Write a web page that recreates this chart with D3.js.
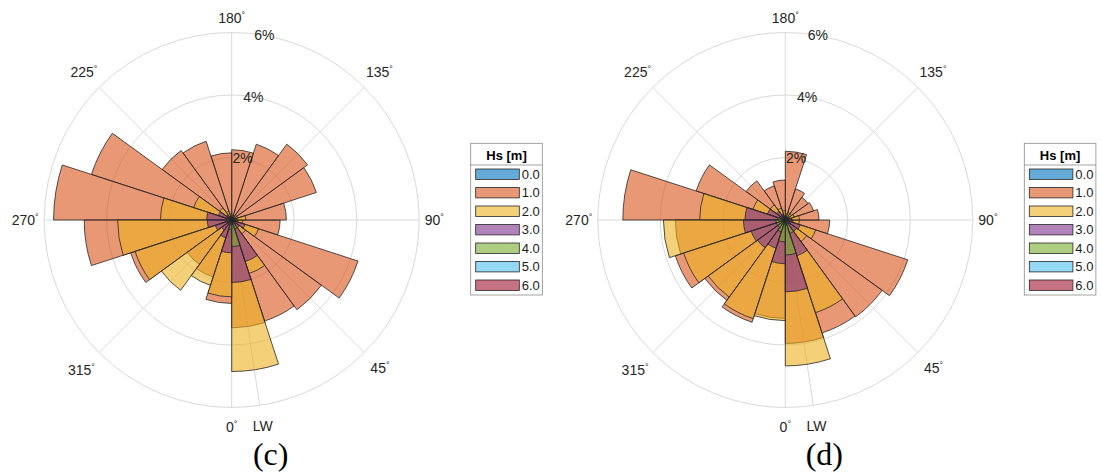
<!DOCTYPE html>
<html>
<head>
<meta charset="utf-8">
<script src="https://cdn.jsdelivr.net/npm/d3@7"></script>
<style>
  html, body { margin: 0; padding: 0; background: #fff; }
  svg { display: block; }
</style>
</head>
<body>
<svg id="chart" width="1101" height="472"></svg>
<script>
// Direction bins (start of each 18° sector) and Hs classes
const directionBins = [0, 18, 36, 54, 72, 90, 108, 126, 144, 162, 180, 198, 216, 234, 252, 270, 288, 306, 324, 342];
const binWidth = 18;
const hsClasses = ["0.0", "1.0", "2.0", "3.0", "4.0", "5.0", "6.0"];
const radialTicks = [2, 4, 6];
const angleTicks = [0, 45, 90, 135, 180, 225, 270, 315];
const lwDirection = 8.6;
const lwLabel = "LW";

// Panel (c): occurrence (%) per direction bin for each Hs class
const c_hs0 = [0.10, 0.08, 0.06, 0.07, 0.05, 0.05, 0.05, 0.05, 0.05, 0.05, 0.05, 0.05, 0.06, 0.07, 0.09, 0.10, 0.09, 0.08, 0.08, 0.10];
const c_hs1 = [3.45, 3.40, 3.55, 4.25, 1.55, 1.75, 2.85, 3.00, 2.55, 2.25, 2.15, 2.65, 2.75, 4.72, 5.70, 4.72, 3.40, 1.76, 1.92, 2.67];
const c_hs2 = [4.85, 1.80, 0.55, 0.90, 0.35, 0.45, 0.20, 0.20, 0.15, 0.15, 0.20, 0.30, 0.48, 1.28, 2.28, 3.65, 3.25, 2.78, 2.20, 2.46];
const c_hs3 = [2.00, 1.40, 0.30, 0.45, 0.20, 0.15, 0.10, 0.08, 0.08, 0.08, 0.10, 0.12, 0.20, 0.45, 0.80, 0.78, 0.55, 0.40, 0.60, 1.05];
const c_hs4 = [0.85, 0.30, 0.12, 0.10, 0.06, 0.05, 0.04, 0.04, 0.04, 0.04, 0.04, 0.05, 0.06, 0.10, 0.15, 0.15, 0.12, 0.10, 0.15, 0.30];
const c_hs5 = [0.12, 0.06, 0.04, 0.04, 0.03, 0.02, 0.02, 0.02, 0.02, 0.02, 0.02, 0.02, 0.03, 0.04, 0.05, 0.06, 0.05, 0.05, 0.06, 0.10];
const c_hs6 = [0.06, 0.04, 0.02, 0.02, 0.02, 0.01, 0.01, 0.01, 0.01, 0.01, 0.01, 0.01, 0.02, 0.02, 0.03, 0.03, 0.03, 0.03, 0.03, 0.05];

// Panel (d)
const d_hs0 = [0.10, 0.08, 0.06, 0.06, 0.05, 0.05, 0.04, 0.04, 0.04, 0.05, 0.05, 0.05, 0.06, 0.07, 0.09, 0.10, 0.10, 0.09, 0.09, 0.10];
const d_hs1 = [3.95, 3.80, 3.83, 4.12, 1.42, 1.08, 0.95, 0.90, 1.05, 2.20, 1.28, 1.15, 1.55, 3.00, 5.20, 3.52, 3.70, 3.18, 3.44, 3.15];
const d_hs2 = [4.67, 3.12, 0.85, 1.02, 0.45, 0.45, 0.30, 0.25, 0.25, 0.20, 0.30, 0.40, 0.60, 1.09, 2.74, 3.90, 3.42, 3.05, 3.32, 3.22];
const d_hs3 = [2.30, 1.20, 0.45, 0.50, 0.25, 0.20, 0.12, 0.10, 0.10, 0.10, 0.12, 0.20, 0.35, 0.60, 1.29, 1.34, 1.15, 1.10, 0.95, 1.40];
const d_hs4 = [1.12, 0.45, 0.15, 0.12, 0.08, 0.06, 0.05, 0.05, 0.05, 0.05, 0.05, 0.06, 0.10, 0.15, 0.25, 0.30, 0.30, 0.30, 0.40, 0.70];
const d_hs5 = [0.15, 0.08, 0.04, 0.04, 0.03, 0.02, 0.02, 0.02, 0.02, 0.02, 0.02, 0.02, 0.03, 0.04, 0.06, 0.07, 0.07, 0.06, 0.07, 0.12];
const d_hs6 = [0.07, 0.04, 0.02, 0.02, 0.02, 0.01, 0.01, 0.01, 0.01, 0.01, 0.01, 0.01, 0.02, 0.02, 0.03, 0.04, 0.04, 0.03, 0.04, 0.06];

// Styling
const classColors = ["#0072BD", "#D95319", "#EDB120", "#7E2F8E", "#77AC30", "#4DBEEE", "#A2142F"];
const faceAlpha = 0.6;
const sansFont = "'Liberation Sans', Arial, Helvetica, sans-serif";
const serifFont = "'Liberation Serif', 'Times New Roman', serif";
const textColor = "#262626";

const panels = [
  { cx: 231.7, cy: 220, caption: "(c)", series: [c_hs0, c_hs1, c_hs2, c_hs3, c_hs4, c_hs5, c_hs6] },
  { cx: 785.3, cy: 220, caption: "(d)", series: [d_hs0, d_hs1, d_hs2, d_hs3, d_hs4, d_hs5, d_hs6] }
];

const svg = d3.select("#chart");
const rMax = 187.5;
const rScale = d3.scaleLinear().domain([0, 6]).range([0, rMax]);
const rad = deg => deg * Math.PI / 180;
// Directions run counterclockwise starting at the bottom (0° = down, 90° = right)
const px = (deg, r) => Math.sin(rad(deg)) * r;
const py = (deg, r) => Math.cos(rad(deg)) * r;
// d3.arc measures angles clockwise from 12 o'clock
const arcAngle = deg => Math.PI - rad(deg);
const arc = d3.arc();

panels.forEach(p => {
  const g = svg.append("g").attr("transform", `translate(${p.cx},${p.cy})`);

  // grid
  const grid = g.append("g").attr("fill", "none").attr("stroke", "#d9d9d9").attr("stroke-width", 1);
  radialTicks.forEach(t => grid.append("circle").attr("r", rScale(t)));
  angleTicks.concat([lwDirection]).forEach(a => {
    grid.append("line")
      .attr("x1", 0).attr("y1", 0)
      .attr("x2", px(a, rMax)).attr("y2", py(a, rMax));
  });

  // overlaid, translucent sector bars, one layer per Hs class
  const bars = g.append("g");
  p.series.forEach((vals, k) => {
    const layer = bars.append("g");
    directionBins.forEach((dir, i) => {
      const v = vals[i];
      if (!(v > 0)) return;
      layer.append("path")
        .attr("d", arc({
          innerRadius: 0,
          outerRadius: rScale(v),
          startAngle: arcAngle(dir + binWidth),
          endAngle: arcAngle(dir)
        }))
        .attr("fill", classColors[k])
        .attr("fill-opacity", faceAlpha)
        .attr("stroke", "#262626")
        .attr("stroke-width", 0.8)
        .attr("stroke-linejoin", "miter");
    });
  });

  // radial tick labels
  radialTicks.forEach(t => {
    g.append("text")
      .attr("x", px(170, rScale(t)))
      .attr("y", py(170, rScale(t)) + 5)
      .attr("text-anchor", "middle")
      .attr("font-family", sansFont)
      .attr("font-size", 14)
      .attr("fill", textColor)
      .text(t + "%");
  });

  // angular tick labels
  const thetaLabels = angleTicks.map(a => ({ a, main: String(a), deg: true }))
    .concat([{ a: lwDirection, main: lwLabel, deg: false }]);
  thetaLabels.forEach(l => {
    const t = g.append("text")
      .attr("font-family", sansFont)
      .attr("font-size", 14)
      .attr("fill", textColor)
      .attr("text-anchor", "middle");
    t.append("tspan").text(l.main);
    if (l.deg) t.append("tspan").attr("font-size", 9).attr("dy", -5).text("°");
    const w = t.node().getComputedTextLength();
    const s = Math.sin(rad(l.a)), c = Math.cos(rad(l.a));
    const r = 193 + Math.abs(s) * w / 2 + (c > 0 ? 14 : 9) * Math.abs(c);
    t.attr("x", s * r).attr("y", c * r + 5);
  });

  // legend
  const lx = p.cx + 239, ly = 143.3, lw = 71.6, lh = 151.7;
  const lg = svg.append("g");
  lg.append("rect").attr("x", lx).attr("y", ly).attr("width", lw).attr("height", lh)
    .attr("fill", "#fff").attr("stroke", "#8c8c8c").attr("stroke-width", 0.8);
  lg.append("line").attr("x1", lx).attr("x2", lx + lw).attr("y1", ly + 21.7).attr("y2", ly + 21.7)
    .attr("stroke", "#8c8c8c").attr("stroke-width", 0.8);
  lg.append("text").attr("x", lx + lw / 2).attr("y", ly + 16.7)
    .attr("text-anchor", "middle").attr("font-family", sansFont).attr("font-weight", "bold")
    .attr("font-size", 13).attr("fill", "#000").text("Hs [m]");
  hsClasses.forEach((h, k) => {
    const yc = ly + 30.9 + k * 18.5;
    lg.append("rect").attr("x", lx + 5).attr("y", yc - 5.2).attr("width", 43.6).attr("height", 10.4)
      .attr("fill", classColors[k]).attr("fill-opacity", faceAlpha)
      .attr("stroke", "#262626").attr("stroke-width", 0.8);
    lg.append("text").attr("x", lx + 51).attr("y", yc + 4.6)
      .attr("font-family", sansFont).attr("font-size", 13).attr("fill", "#1a1a1a").text(h);
  });

  // panel caption
  svg.append("text").attr("x", p.cx + 39).attr("y", 465)
    .attr("text-anchor", "middle").attr("font-family", serifFont)
    .attr("font-size", 32).attr("fill", "#000").text(p.caption);
});
</script>
</body>
</html>
